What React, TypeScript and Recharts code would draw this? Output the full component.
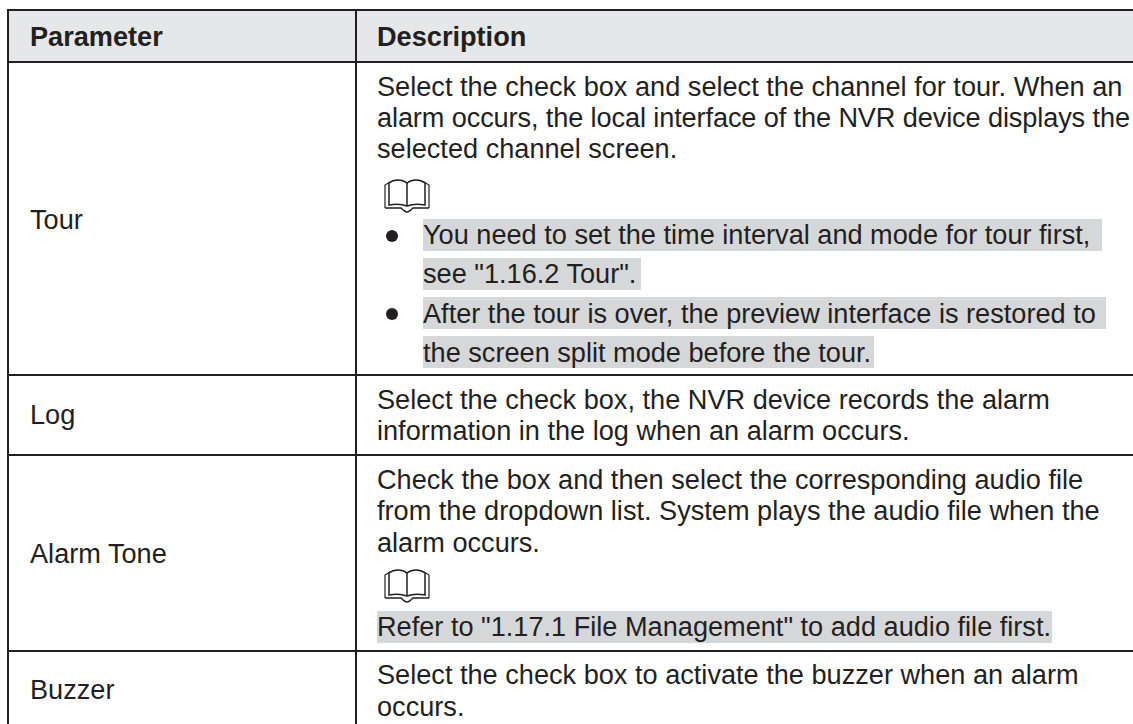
import { ComposedChart, ReferenceArea, ReferenceLine, Scatter, XAxis, YAxis } from "recharts";

const WIDTH = 1133;
const HEIGHT = 724;
const FONT = '"Liberation Sans", Arial, sans-serif';
const INK = "#231f20";

// Axis units are page pixels, so every rule and text row goes through the scales.
const headers = ["Parameter", "Description"];
const headerX = [30, 377];
const headerY = [46, 46];

const parameters = ["Tour", "Log", "Alarm Tone", "Buzzer"];
const parameterY = [229, 424, 563, 699];

const paragraphLines = [
  "Select the check box and select the channel for tour. When an",
  "alarm occurs, the local interface of the NVR device displays the",
  "selected channel screen.",
  "Select the check box, the NVR device records the alarm",
  "information in the log when an alarm occurs.",
  "Check the box and then select the corresponding audio file",
  "from the dropdown list. System plays the audio file when the",
  "alarm occurs.",
  'Refer to "1.17.1 File Management" to add audio file first.',
  "Select the check box to activate the buzzer when an alarm",
  "occurs.",
];
const paragraphY = [96, 127, 158, 409, 440, 489, 520, 552, 636, 684, 716];

const bulletLines = [
  "You need to set the time interval and mode for tour first,",
  'see "1.16.2 Tour".',
  "After the tour is over, the preview interface is restored to",
  "the screen split mode before the tour.",
];
const bulletLineY = [244, 283, 323, 362];
const bulletDotY = [236, 314];
const noteIconY = [213, 603];

const rowRuleY = [10, 62, 375, 455, 651];
const columnRuleX = [8, 356];

// [x1, x2, y1, y2] of the grey marked-up text runs
const highlights = [
  [423, 1102, 219, 251],
  [423, 641, 258, 290],
  [423, 1106, 297, 329],
  [423, 874, 336, 368],
  [377, 1052, 611, 643],
];

const zip = (text: string[], x: number[] | number, y: number[]) =>
  text.map((t, i) => ({ text: t, x: Array.isArray(x) ? x[i] : x, y: y[i] }));

const TextRow = ({ cx, cy, payload, weight }: any) => (
  <text
    x={cx}
    y={cy}
    fontFamily={FONT}
    fontSize={27.15}
    fontWeight={weight}
    fill={INK}
    // this one line runs a few pixels tighter in the reference and would hit the edge
    textLength={payload.text === paragraphLines[1] ? 753 : undefined}
  >
    {payload.text}
  </text>
);

const Dot = ({ cx, cy }: any) => <circle cx={cx} cy={cy} r={6} fill={INK} />;

// open book note icon, anchored at its bottom centre
const BookIcon = ({ cx, cy }: any) => (
  <g transform={`translate(${cx - 23},${cy - 35})`} fill="none" stroke={INK}>
    <path d="M1 30V7L6 4M45 30V7L40 4" strokeWidth={1.2} />
    <path
      d="M5 27V5C10 1 18 1 23 5C28 1 36 1 41 5V27C36 26 28 26 23 28C18 26 10 26 5 27Z"
      strokeWidth={1.5}
    />
    <path d="M23 5V28" strokeWidth={1.5} />
    <path d="M1 30H17C19 32 21 34 23 34C25 34 27 32 29 30H45" strokeWidth={1.6} />
  </g>
);

const App = () => (
  <div style={{ position: "absolute", left: 0, top: 0, width: WIDTH, height: HEIGHT, background: "#fff" }}>
    <ComposedChart width={WIDTH} height={HEIGHT} margin={{ top: 0, right: 0, bottom: 0, left: 0 }}>
      <XAxis type="number" dataKey="x" domain={[0, WIDTH]} hide />
      <YAxis type="number" dataKey="y" domain={[0, HEIGHT]} reversed hide />
      <ReferenceArea x1={columnRuleX[0]} x2={WIDTH} y1={rowRuleY[0]} y2={rowRuleY[1]} fill="#e6e7e8" fillOpacity={1} stroke="none" />
      {highlights.map(([x1, x2, y1, y2]) => (
        <ReferenceArea key={y1} x1={x1} x2={x2} y1={y1} y2={y2} fill="#d6d7d9" fillOpacity={1} stroke="none" />
      ))}
      {rowRuleY.map((y) => (
        <ReferenceLine
          key={y}
          segment={[{ x: columnRuleX[0] - 1, y }, { x: WIDTH, y }]}
          stroke={INK}
          strokeWidth={2}
        />
      ))}
      {columnRuleX.map((x) => (
        <ReferenceLine
          key={x}
          segment={[{ x, y: rowRuleY[0] }, { x, y: HEIGHT }]}
          stroke={INK}
          strokeWidth={2}
        />
      ))}
      <Scatter
        data={zip(headers, headerX, headerY)}
        isAnimationActive={false}
        shape={(p: any) => <TextRow {...p} weight="bold" />}
      />
      <Scatter
        data={zip(parameters, headerX[0], parameterY)}
        isAnimationActive={false}
        shape={(p: any) => <TextRow {...p} weight="normal" />}
      />
      <Scatter
        data={zip(paragraphLines, headerX[1], paragraphY)}
        isAnimationActive={false}
        shape={(p: any) => <TextRow {...p} weight="normal" />}
      />
      <Scatter
        data={zip(bulletLines, 423, bulletLineY)}
        isAnimationActive={false}
        shape={(p: any) => <TextRow {...p} weight="normal" />}
      />
      <Scatter
        data={bulletDotY.map((y) => ({ x: 392, y }))}
        isAnimationActive={false}
        shape={Dot}
      />
      <Scatter
        data={noteIconY.map((y) => ({ x: 407, y }))}
        isAnimationActive={false}
        shape={BookIcon}
      />
    </ComposedChart>
  </div>
);

export default App;
